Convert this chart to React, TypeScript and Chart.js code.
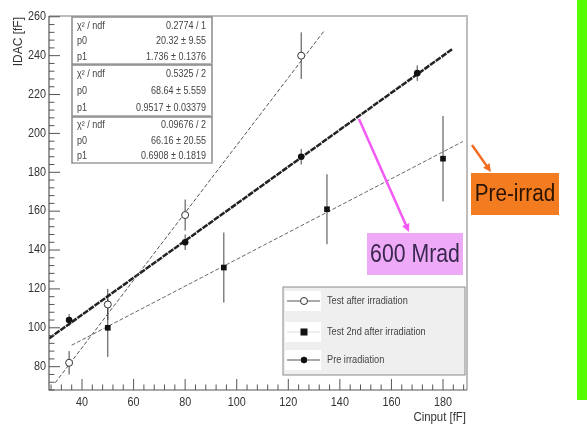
import { useEffect, useRef } from "react";
import { Chart, registerables } from "chart.js";

Chart.register(...registerables);

// Axis ticks
const X_TICKS = [40, 60, 80, 100, 120, 140, 160, 180];
const Y_TICKS = [80, 100, 120, 140, 160, 180, 200, 220, 240, 260];
const X_RANGE = [27.2, 189.3];
const Y_RANGE = [68, 260.4];

// Test after irradiation (open circles)
const AFTER_X = [35, 50, 80, 125];
const AFTER_Y = [82, 112, 158, 240];
const AFTER_ERR = [6, 8, 8, 12];

// Test 2nd after irradiation (filled squares)
const SECOND_X = [50, 95, 135, 180];
const SECOND_Y = [100, 131, 161, 187];
const SECOND_ERR = [15, 18, 18, 22];

// Pre irradiation
const PRE_X = [35, 80, 125, 170];
const PRE_Y = [104, 144, 188, 231];
const PRE_ERR = [3, 4, 4, 4];

// Linear fit results (p0 + p1 * x) and drawn ranges
const STAT_NAMES = ["χ² / ndf", "p0", "p1"];
const STAT_AFTER = ["0.2774 / 1", "20.32 ± 9.55", "1.736 ± 0.1376"];
const STAT_PRE = ["0.5325 / 2", "68.64 ± 5.559", "0.9517 ± 0.03379"];
const STAT_SECOND = ["0.09676 / 2", "66.16 ± 20.55", "0.6908 ± 0.1819"];
const P_AFTER = [20.32, 1.736];
const P_PRE = [68.64, 0.9517];
const P_SECOND = [66.16, 0.6908];
const RANGE_AFTER = [29.6, 133.8];
const RANGE_PRE = [27.2, 183.5];
const RANGE_SECOND = [36, 187.7];

const LEGEND_LABELS = ["Test after irradiation", "Test 2nd after irradiation", "Pre irradiation"];
const X_TITLE = "Cinput [fF]";
const Y_TITLE = "IDAC [fF]";

const toPoints = (xs: number[], ys: number[]) => xs.map((x, i) => ({ x, y: ys[i] }));
const fitLine = (p: number[], r: number[]) => r.map((x) => ({ x, y: p[0] + p[1] * x }));

const FONT = "'Liberation Sans', Arial, sans-serif";

function text(
  ctx: CanvasRenderingContext2D,
  s: string,
  x: number,
  y: number,
  size: number,
  color: string,
  align: CanvasTextAlign = "left",
  sx = 1
) {
  ctx.save();
  ctx.translate(x, y);
  ctx.scale(sx, 1);
  ctx.font = `${size}px ${FONT}`;
  ctx.fillStyle = color;
  ctx.textAlign = align;
  ctx.textBaseline = "middle";
  ctx.fillText(s, 0, 0);
  ctx.restore();
}

function arrow(ctx: CanvasRenderingContext2D, x0: number, y0: number, x1: number, y1: number, color: string) {
  const a = Math.atan2(y1 - y0, x1 - x0);
  const hl = 9;
  ctx.save();
  ctx.strokeStyle = color;
  ctx.fillStyle = color;
  ctx.lineWidth = 2.5;
  ctx.beginPath();
  ctx.moveTo(x0, y0);
  ctx.lineTo(x1 - Math.cos(a) * hl * 0.7, y1 - Math.sin(a) * hl * 0.7);
  ctx.stroke();
  ctx.beginPath();
  ctx.moveTo(x1, y1);
  ctx.lineTo(x1 - hl * Math.cos(a - 0.45), y1 - hl * Math.sin(a - 0.45));
  ctx.lineTo(x1 - hl * Math.cos(a + 0.45), y1 - hl * Math.sin(a + 0.45));
  ctx.closePath();
  ctx.fill();
  ctx.restore();
}

const errorBars = {
  id: "errorBars",
  beforeDatasetsDraw(chart: any) {
    const ctx = chart.ctx as CanvasRenderingContext2D;
    const ys = chart.scales.y;
    chart.data.datasets.forEach((ds: any, di: number) => {
      if (!ds.errors) return;
      const meta = chart.getDatasetMeta(di);
      ctx.save();
      ctx.strokeStyle = "#444";
      ctx.lineWidth = 1;
      meta.data.forEach((el: any, i: number) => {
        const v = ds.data[i].y;
        const e = ds.errors[i];
        ctx.beginPath();
        ctx.moveTo(el.x, ys.getPixelForValue(v + e));
        ctx.lineTo(el.x, ys.getPixelForValue(v - e));
        ctx.stroke();
      });
      ctx.restore();
    });
  },
};

function minorValues(min: number, max: number, step: number, majors: number[]) {
  const out: number[] = [];
  for (let v = Math.ceil(min / step) * step; v <= max; v += step) {
    if (!majors.includes(v)) out.push(v);
  }
  return out;
}

function drawMarker(ctx: CanvasRenderingContext2D, kind: string, x: number, y: number) {
  ctx.save();
  ctx.lineWidth = 1;
  ctx.strokeStyle = "#333";
  if (kind === "open") {
    ctx.fillStyle = "#fff";
    ctx.beginPath();
    ctx.arc(x, y, 3.5, 0, Math.PI * 2);
    ctx.fill();
    ctx.stroke();
  } else if (kind === "square") {
    ctx.fillStyle = "#111";
    ctx.fillRect(x - 3.5, y - 3.5, 7, 7);
  } else {
    ctx.fillStyle = "#111";
    ctx.beginPath();
    ctx.arc(x, y, 3.2, 0, Math.PI * 2);
    ctx.fill();
  }
  ctx.restore();
}

const rootFrame = {
  id: "rootFrame",
  afterDraw(chart: any) {
    const ctx = chart.ctx as CanvasRenderingContext2D;
    const { left, right, top, bottom } = chart.chartArea;
    const xs = chart.scales.x;
    const ys = chart.scales.y;

    // frame
    ctx.save();
    ctx.strokeStyle = "#bdbdbd";
    ctx.lineWidth = 2;
    ctx.beginPath();
    ctx.moveTo(left, top);
    ctx.lineTo(right, top);
    ctx.lineTo(right, bottom);
    ctx.stroke();
    ctx.strokeStyle = "#555";
    ctx.lineWidth = 1.2;
    ctx.beginPath();
    ctx.moveTo(left, top);
    ctx.lineTo(left, bottom);
    ctx.lineTo(right, bottom);
    ctx.stroke();

    // ticks, pointing inward
    ctx.lineWidth = 1;
    ctx.strokeStyle = "#555";
    ctx.beginPath();
    Y_TICKS.forEach((v) => {
      const py = ys.getPixelForValue(v);
      ctx.moveTo(left, py);
      ctx.lineTo(left + 11, py);
    });
    minorValues(Y_RANGE[0], Y_RANGE[1], 4, Y_TICKS).forEach((v) => {
      const py = ys.getPixelForValue(v);
      ctx.moveTo(left, py);
      ctx.lineTo(left + 5.5, py);
    });
    X_TICKS.forEach((v) => {
      const px = xs.getPixelForValue(v);
      ctx.moveTo(px, bottom);
      ctx.lineTo(px, bottom - 11);
    });
    minorValues(X_RANGE[0], X_RANGE[1], 4, X_TICKS).forEach((v) => {
      const px = xs.getPixelForValue(v);
      ctx.moveTo(px, bottom);
      ctx.lineTo(px, bottom - 5.5);
    });
    ctx.stroke();
    ctx.restore();

    // tick labels
    Y_TICKS.forEach((v) => text(ctx, String(v), left - 3, ys.getPixelForValue(v), 12, "#333", "right", 0.9));
    X_TICKS.forEach((v) => text(ctx, String(v), xs.getPixelForValue(v), bottom + 13, 12, "#333", "center", 0.9));

    // axis titles
    text(ctx, X_TITLE, right - 1, bottom + 28, 12, "#333", "right", 0.95);
    ctx.save();
    ctx.translate(19, top + 1);
    ctx.rotate(-Math.PI / 2);
    text(ctx, Y_TITLE, 0, 0, 12, "#333", "right", 1);
    ctx.restore();

    // fit statistics boxes
    const boxes = [
      { y: 17, h: 47, vals: STAT_AFTER },
      { y: 65, h: 51, vals: STAT_PRE },
      { y: 117, h: 46, vals: STAT_SECOND },
    ];
    boxes.forEach((b) => {
      ctx.save();
      ctx.fillStyle = "#fff";
      ctx.fillRect(72, b.y, 140, b.h);
      ctx.strokeStyle = "#8a8a8a";
      ctx.lineWidth = 1.5;
      ctx.strokeRect(72, b.y, 140, b.h);
      ctx.fillStyle = "#b5b5b5";
      ctx.fillRect(73, b.y + b.h - 1, 140, 2);
      ctx.restore();
      const rh = b.h / 3;
      STAT_NAMES.forEach((n, i) => {
        const cy = b.y + rh * (i + 0.5) + 1;
        text(ctx, n, 77, cy, 10, "#444", "left", 0.9);
        text(ctx, b.vals[i], 206, cy, 10, "#444", "right", 0.9);
      });
    });

    // legend
    const lx = 283, ly = 287, lw = 182, lh = 88;
    ctx.save();
    ctx.fillStyle = "#efefef";
    ctx.fillRect(lx, ly, lw, lh);
    ctx.strokeStyle = "#8a8a8a";
    ctx.lineWidth = 1;
    ctx.strokeRect(lx, ly, lw, lh);
    ctx.restore();
    const rows = [301, 332, 360];
    const kinds = ["open", "square", "pre"];
    rows.forEach((cy, i) => {
      ctx.save();
      ctx.fillStyle = "#fff";
      ctx.fillRect(285, cy - 10, 36, 20);
      ctx.strokeStyle = i === 1 ? "#ddd" : "#555";
      ctx.lineWidth = 1;
      ctx.beginPath();
      ctx.moveTo(287, cy);
      ctx.lineTo(320, cy);
      ctx.stroke();
      ctx.restore();
      drawMarker(ctx, kinds[i], 304, cy);
      text(ctx, LEGEND_LABELS[i], 327, cy, 10, "#444", "left", 0.92);
    });

    // annotations
    arrow(ctx, 472, 145, 491, 172, "#f36b21");
    ctx.fillStyle = "#f47c20";
    ctx.fillRect(471, 173, 88, 42);
    text(ctx, "Pre-irrad", 515, 195, 23, "#2a1400", "center", 0.9);

    arrow(ctx, 359, 119, 409, 232, "#f25af2");
    ctx.fillStyle = "#eeaaf6";
    ctx.fillRect(367, 233, 96, 42);
    text(ctx, "600 Mrad", 415, 255, 25, "#3a2850", "center", 0.85);

    ctx.fillStyle = "#55ff00";
    ctx.fillRect(577, 0, 10, 400);
  },
};

export default function App() {
  const ref = useRef<HTMLCanvasElement>(null);

  useEffect(() => {
    document.body.style.margin = "0";
    const canvas = ref.current;
    if (!canvas) return;
    const chart = new Chart(canvas, {
      type: "scatter",
      data: {
        datasets: [
          {
            label: "fit after",
            data: fitLine(P_AFTER, RANGE_AFTER),
            showLine: true,
            borderColor: "#555",
            borderWidth: 1,
            borderDash: [4, 2],
            pointRadius: 0,
            order: 2,
          },
          {
            label: "fit pre",
            data: fitLine(P_PRE, RANGE_PRE),
            showLine: true,
            borderColor: "#222",
            borderWidth: 2.5,
            borderDash: [6, 1],
            pointRadius: 0,
            order: 2,
          },
          {
            label: "fit second",
            data: fitLine(P_SECOND, RANGE_SECOND),
            showLine: true,
            borderColor: "#666",
            borderWidth: 1,
            borderDash: [4, 2],
            pointRadius: 0,
            order: 2,
          },
          {
            label: LEGEND_LABELS[0],
            data: toPoints(AFTER_X, AFTER_Y),
            errors: AFTER_ERR,
            pointStyle: "circle",
            pointRadius: 3.5,
            backgroundColor: "#fff",
            borderColor: "#333",
            borderWidth: 1,
            order: 1,
          } as any,
          {
            label: LEGEND_LABELS[1],
            data: toPoints(SECOND_X, SECOND_Y),
            errors: SECOND_ERR,
            pointStyle: "rect",
            pointRadius: 4,
            backgroundColor: "#111",
            borderColor: "#111",
            borderWidth: 0,
            order: 1,
          } as any,
          {
            label: LEGEND_LABELS[2],
            data: toPoints(PRE_X, PRE_Y),
            errors: PRE_ERR,
            pointStyle: "circle",
            pointRadius: 3.3,
            backgroundColor: "#111",
            borderColor: "#111",
            borderWidth: 0,
            order: 1,
          } as any,
        ],
      },
      options: {
        responsive: false,
        animation: false,
        events: [],
        layout: { padding: { top: 16, right: 120, left: 0, bottom: 0 } },
        plugins: { legend: { display: false }, tooltip: { enabled: false } },
        scales: {
          x: {
            type: "linear",
            min: X_RANGE[0],
            max: X_RANGE[1],
            grid: { display: false, drawTicks: false },
            border: { display: false },
            ticks: { display: false },
            afterFit: (s: any) => {
              s.height = 41;
            },
          },
          y: {
            type: "linear",
            min: Y_RANGE[0],
            max: Y_RANGE[1],
            grid: { display: false, drawTicks: false },
            border: { display: false },
            ticks: { display: false },
            afterFit: (s: any) => {
              s.width = 49;
            },
          },
        },
      },
      plugins: [errorBars, rootFrame],
    });
    return () => chart.destroy();
  }, []);

  return (
    <div style={{ width: 587, height: 431, background: "#fff" }}>
      <canvas ref={ref} width={587} height={431} />
    </div>
  );
}
